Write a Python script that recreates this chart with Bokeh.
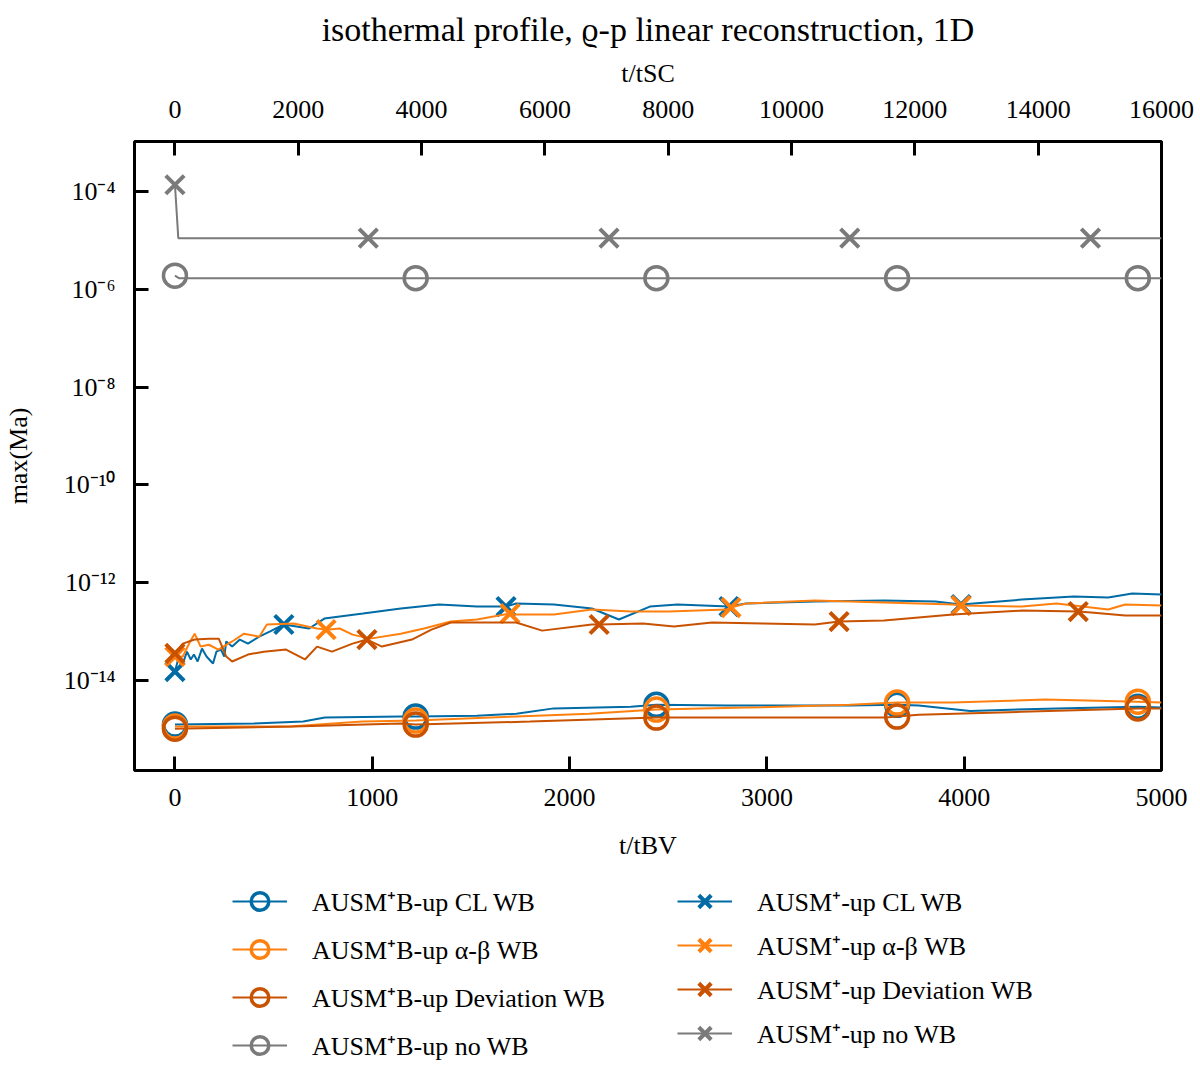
from bokeh.plotting import figure
from bokeh.layouts import column
from bokeh.models import (LinearAxis, Range1d, FixedTicker, CustomJSTickFormatter,
                          Legend, LegendItem)
from bokeh.embed import file_html
from bokeh.resources import INLINE

FONT = "Liberation Serif"

# --- data (t in units of t_BV, values of max(Ma)) ---
# AUSM_B^+-up series (circles)
t_b_cl = [0, 400, 650, 760, 1145, 1220, 1530, 1730, 1920, 2310, 2440, 2800, 3100, 3420,
          3660, 3770, 4030, 4470, 4880, 5000]
v_b_cl = [1.26e-15, 1.32e-15, 1.45e-15, 1.75e-15, 1.84e-15, 1.84e-15, 1.9e-15, 2.1e-15,
          2.7e-15, 2.9e-15, 3.2e-15, 3.1e-15, 3.1e-15, 3.1e-15, 3.2e-15, 3.1e-15, 2.4e-15,
          2.7e-15, 2.9e-15, 2.8e-15]
m_b_cl = [0, 5, 10, 14, 18]

t_b_ab = [0, 580, 950, 1220, 1730, 2100, 2440, 2900, 3420, 3660, 3940, 4410, 4880, 5000]
v_b_ab = [1.15e-15, 1.15e-15, 1.45e-15, 1.52e-15, 1.84e-15, 2.1e-15, 2.55e-15, 2.8e-15,
          3.2e-15, 3.55e-15, 3.55e-15, 4.1e-15, 3.7e-15, 3.55e-15]
m_b_ab = [0, 3, 6, 9, 12]

t_b_dev = [0, 600, 1145, 1220, 1800, 2440, 2800, 3600, 3660, 3770, 4290, 4880, 5000]
v_b_dev = [1.04e-15, 1.15e-15, 1.32e-15, 1.26e-15, 1.45e-15, 1.75e-15, 1.75e-15, 1.75e-15,
           1.84e-15, 2.0e-15, 2.3e-15, 2.7e-15, 2.7e-15]
m_b_dev = [0, 3, 5, 8, 11]

t_b_no = [0, 20, 1220, 2440, 3660, 4880, 5000]
v_b_no = [1.9e-6, 1.69e-6, 1.69e-6, 1.69e-6, 1.69e-6, 1.69e-6, 1.69e-6]
m_b_no = [0, 2, 3, 4, 5]

# AUSM^+-up series (crosses)
t_p_cl = [0, 20, 40, 61, 80, 96, 115, 137, 160, 193, 210, 233, 250, 260, 290, 329, 370, 427,
          480, 552, 680, 757, 953, 1145, 1339, 1531, 1678, 1729, 1921, 2113, 2250, 2407, 2547,
          2808, 2895, 3243, 3594, 3855, 3984, 4293, 4555, 4730, 4852, 5000]
v_p_cl = [1.53e-14, 3.1e-14, 2.23e-14, 3.9e-14, 2.7e-14, 3.4e-14, 2.45e-14, 4.5e-14, 3.1e-14,
          2.23e-14, 3.9e-14, 4.3e-14, 3.1e-14, 6.3e-14, 4.95e-14, 6.9e-14, 5.7e-14, 7.9e-14,
          1.0e-13, 1.40e-13, 1.16e-13, 1.85e-13, 2.34e-13, 2.97e-13, 3.58e-13, 3.26e-13,
          3.26e-13, 3.76e-13, 3.58e-13, 2.97e-13, 1.77e-13, 3.26e-13, 3.58e-13, 3.26e-13,
          3.76e-13, 4.13e-13, 4.32e-13, 4.13e-13, 3.58e-13, 4.53e-13, 5.22e-13, 4.98e-13,
          6.0e-13, 5.74e-13]
m_p_cl = [0, 19, 26, 33, 38]

t_p_ab = [0, 40, 77, 100, 130, 172, 220, 290, 350, 427, 466, 602, 719, 766, 835, 900, 988,
          1145, 1262, 1398, 1531, 1698, 1729, 1921, 2113, 2311, 2503, 2794, 2818, 2895, 3243,
          3594, 3943, 3984, 4293, 4468, 4730, 4816, 5000]
v_p_ab = [3.1e-14, 3.1e-14, 6.3e-14, 9.1e-14, 4.95e-14, 5.4e-14, 4.3e-14, 6.3e-14, 9.1e-14,
          7.9e-14, 1.40e-13, 1.47e-13, 1.16e-13, 1.10e-13, 1.16e-13, 8.7e-14, 7.2e-14, 9.1e-14,
          1.16e-13, 1.61e-13, 1.77e-13, 2.34e-13, 2.24e-13, 2.24e-13, 2.83e-13, 2.58e-13,
          2.58e-13, 2.83e-13, 3.11e-13, 3.76e-13, 4.32e-13, 3.94e-13, 3.58e-13, 3.42e-13,
          3.26e-13, 3.76e-13, 2.83e-13, 3.58e-13, 3.42e-13]
m_p_ab = [0, 13, 21, 28, 33]

t_p_dev = [0, 40, 100, 172, 222, 260, 290, 370, 450, 563, 659, 720, 796, 900, 973, 1049, 1201,
           1300, 1398, 1729, 1861, 2113, 2150, 2372, 2529, 2722, 2980, 3243, 3366, 3594, 3943,
           4293, 4578, 4643, 4816, 5000]
v_p_dev = [3.6e-14, 5.7e-14, 6.9e-14, 7.2e-14, 7.2e-14, 3.1e-14, 2.45e-14, 3.4e-14, 3.9e-14,
           4.3e-14, 2.7e-14, 4.95e-14, 3.9e-14, 5.7e-14, 6.9e-14, 4.95e-14, 6.9e-14, 1.10e-13,
           1.54e-13, 1.54e-13, 1.05e-13, 1.40e-13, 1.40e-13, 1.47e-13, 1.27e-13, 1.54e-13,
           1.47e-13, 1.40e-13, 1.61e-13, 1.69e-13, 2.24e-13, 2.70e-13, 2.58e-13, 2.46e-13,
           2.13e-13, 2.13e-13]
m_p_dev = [0, 14, 22, 28, 32]

t_p_no = [0, 17, 980, 2200, 3420, 4640, 5000]
v_p_no = [1.37e-4, 1.11e-5, 1.11e-5, 1.11e-5, 1.11e-5, 1.11e-5, 1.11e-5]
m_p_no = [0, 2, 3, 4, 5]

bv_ticks = [0, 1000, 2000, 3000, 4000, 5000]
sc_ticks = [0, 2000, 4000, 6000, 8000, 10000, 12000, 14000, 16000]
y_ticks = [1e-14, 1e-12, 1e-10, 1e-8, 1e-6, 1e-4]

labels_b = ["AUSM⁺B-up CL WB", "AUSM⁺B-up α-β WB", "AUSM⁺B-up Deviation WB", "AUSM⁺B-up no WB"]
labels_p = ["AUSM⁺-up CL WB", "AUSM⁺-up α-β WB", "AUSM⁺-up Deviation WB", "AUSM⁺-up no WB"]

BLUE = "#006BA4"
ORANGE = "#FF800E"
DORANGE = "#C85200"
GRAY = "#7a7a7a"

x_lo, x_hi = -205, 5000

p = figure(frame_width=1027, frame_height=629, y_axis_type="log",
           x_range=(x_lo, x_hi), y_range=(1.45e-16, 1.05e-3),
           output_backend="svg", toolbar_location=None,
           title="isothermal profile, ϱ-p linear reconstruction, 1D",
           min_border_left=132, min_border_right=33, min_border_top=0,
           min_border_bottom=0)
p.background_fill_color = "white"
p.border_fill_color = "white"
p.grid.visible = False
p.outline_line_color = "black"
p.outline_line_width = 3
p.outline_line_alpha = 1

p.title.text_font = FONT
p.title.text_font_size = "34px"
p.title.text_font_style = "normal"
p.title.text_color = "black"
p.title.align = "center"
p.title.standoff = 16

bottom_ax = p.below[0]
left_ax = p.left[0]
p.extra_x_ranges = {"sc": Range1d(x_lo * 3.2, x_hi * 3.2)}
top_ax = LinearAxis(x_range_name="sc", axis_label="t/tSC")
p.add_layout(top_ax, "above")

bottom_ax.axis_label = "t/tBV"
left_ax.axis_label = "max(Ma)"

bottom_ax.ticker = FixedTicker(ticks=bv_ticks)
top_ax.ticker = FixedTicker(ticks=sc_ticks)
left_ax.ticker = FixedTicker(ticks=y_ticks)
left_ax.formatter = CustomJSTickFormatter(code="""
const sup = {'-': '\u207b', '0': '\u2070', '1': '\u00b9', '2': '\u00b2', '3': '\u00b3',
             '4': '\u2074', '5': '\u2075', '6': '\u2076', '7': '\u2077', '8': '\u2078', '9': '\u2079'};
const e = Math.round(Math.log10(tick));
return '10' + String(e).split('').map(c => sup[c]).join('');
""")

for ax in [bottom_ax, left_ax, top_ax]:
    ax.axis_line_color = None
    ax.major_tick_in = 14
    ax.major_tick_out = 0
    ax.major_tick_line_width = 3
    ax.major_tick_line_color = "black"
    ax.minor_tick_line_color = None
    ax.major_label_text_font = FONT
    ax.major_label_text_font_size = "26px"
    ax.major_label_text_color = "black"
    ax.axis_label_text_font = FONT
    ax.axis_label_text_font_size = "26px"
    ax.axis_label_text_font_style = "normal"
    ax.axis_label_text_color = "black"
top_ax.major_label_standoff = 24
top_ax.axis_label_standoff = 10
bottom_ax.major_label_standoff = 18
bottom_ax.axis_label_standoff = 22
left_ax.major_label_standoff = 19
left_ax.axis_label_standoff = 28


def series(fig, t, v, marks, color, marker):
    ln = fig.line(t, v, line_color=color, line_width=2)
    mt = [t[i] for i in marks]
    mv = [v[i] for i in marks]
    if marker == "circle":
        sc = fig.scatter(mt, mv, marker="circle", size=23, fill_color=None,
                         line_color=color, line_width=3.5)
    else:
        sc = fig.scatter(mt, mv, marker="x", size=26, line_color=color, line_width=4)
    return [ln, sc]


all_series = [
    (t_b_cl, v_b_cl, m_b_cl, BLUE, "circle"),
    (t_b_ab, v_b_ab, m_b_ab, ORANGE, "circle"),
    (t_b_dev, v_b_dev, m_b_dev, DORANGE, "circle"),
    (t_b_no, v_b_no, m_b_no, GRAY, "circle"),
    (t_p_cl, v_p_cl, m_p_cl, BLUE, "x"),
    (t_p_ab, v_p_ab, m_p_ab, ORANGE, "x"),
    (t_p_dev, v_p_dev, m_p_dev, DORANGE, "x"),
    (t_p_no, v_p_no, m_p_no, GRAY, "x"),
]
for s in all_series:
    series(p, *s)

# legend lives in its own strip below the main plot; the series are drawn there
# again only to give the legend its glyphs (x range keeps them out of view)
lf = figure(frame_width=1192, frame_height=210, x_range=(-3, -2), y_range=(0, 1),
            output_backend="svg", toolbar_location=None,
            x_axis_location=None, y_axis_location=None, min_border=0)
lf.grid.visible = False
lf.outline_line_color = None

proxies = [series(lf, *s) for s in all_series]
items_b = [LegendItem(label=lab, renderers=r) for lab, r in zip(labels_b, proxies[:4])]
items_p = [LegendItem(label=lab, renderers=r) for lab, r in zip(labels_p, proxies[4:])]


def make_legend(items, loc, spacing):
    lg = Legend(items=items, location=loc, orientation="vertical")
    lg.border_line_color = None
    lg.background_fill_alpha = 0
    lg.label_text_font = FONT
    lg.label_text_font_size = "26px"
    lg.label_text_color = "black"
    lg.glyph_width = 55
    lg.glyph_height = 44
    lg.label_height = 44
    lg.spacing = spacing
    lg.label_standoff = 25
    lg.padding = 0
    lg.margin = 0
    return lg


lf.add_layout(make_legend(items_b, (232, 5), 4), "center")
lf.add_layout(make_legend(items_p, (677, 17), 0), "center")

open("out.html", "w").write(file_html(column(p, lf, spacing=0), INLINE))
